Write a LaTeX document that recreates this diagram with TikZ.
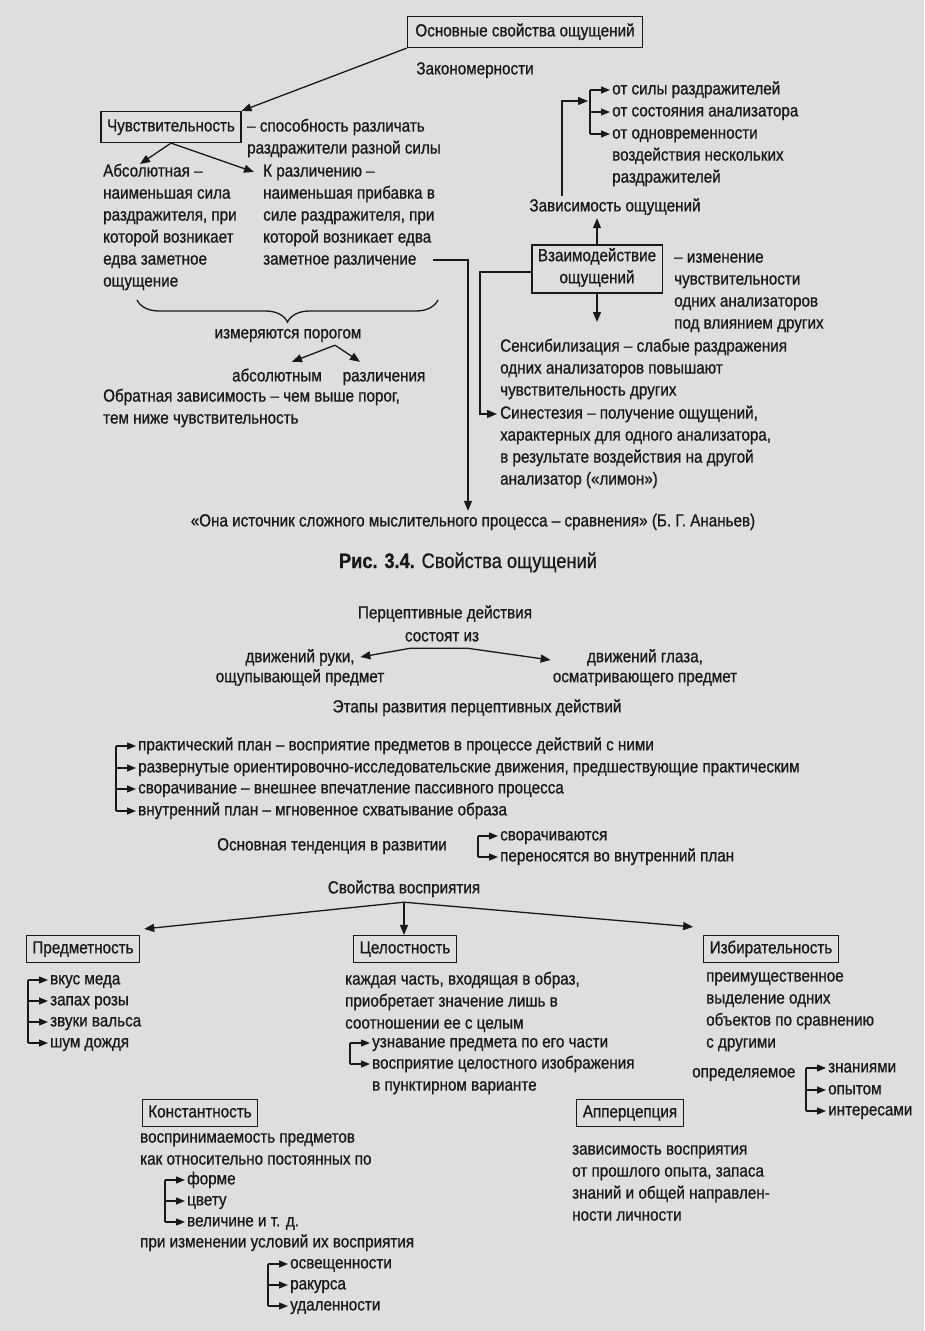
\documentclass[tikz,border=0pt]{standalone}
\usepackage{fontspec}
\setmainfont{Liberation Sans}[FakeStretch=0.87, FakeBold=0.8]
\usetikzlibrary{arrows.meta,positioning,decorations.pathreplacing}
\definecolor{ink}{gray}{0.1}
\definecolor{paper}{gray}{0.87}

\begin{document}
\begin{tikzpicture}[x=1pt, y=-1pt,
  every node/.style={font=\fontsize{17.5}{22}\selectfont, text=ink},
  box/.style={rectangle, draw=ink, line width=1.2pt, align=center, inner xsep=6pt, inner ysep=0pt, minimum height=27pt, execute at begin node=\strut},
  txt/.style={inner sep=0pt, align=left, anchor=north west},
  lbl/.style={inner sep=0pt, execute at begin node=\strut},
  item/.style={lbl, anchor=west},
  arrow/.style={draw=ink, line width=1.3pt, -{Triangle[length=10pt, width=8pt]}},
  tick/.style={draw=ink, line width=1.3pt, -{Triangle[length=9pt, width=7pt]}},
  biarrow/.style={draw=ink, line width=1.3pt, {Triangle[length=10pt, width=8pt]}-{Triangle[length=10pt, width=8pt]}},
  bar/.style={draw=ink, line width=1.3pt},
]
\path[use as bounding box, fill=paper] (0,0) rectangle (924,1331);

% === Fig. 3.4: properties of sensations ===
\node[box, minimum height=31pt, inner xsep=8pt] (osn) at (525,32) {Основные свойства ощущений};
\node[lbl] (zakon) at (475,70) {Закономерности};

\node[box, minimum height=31pt] (chuv) at (171,127) {Чувствительность};
\node[txt] (chuvdef) at (247,116) {\strut– способность различать\\раздражители разной силы};
\node[txt] (absdef) at (103,161) {\strut Абсолютная –\\наименьшая сила\\раздражителя, при\\которой возникает\\едва заметное\\ощущение};
\node[txt] (razldef) at (263,161) {\strut К различению –\\наименьшая прибавка в\\силе раздражителя, при\\которой возникает едва\\заметное различение};
\draw[bar, decorate, decoration={brace, mirror, amplitude=22pt}] (137,300) -- (438,300);
\node[lbl] (izmer) at (288,334) {измеряются порогом};
\coordinate (porog) at ([xshift=47pt]izmer.south);
\node[lbl] (absol) at (277,377) {абсолютным};
\node[lbl] (razlich) at (384,377) {различения};
\node[txt] (obrat) at (103,386) {\strut Обратная зависимость – чем выше порог,\\тем ниже чувствительность};

\node[item] (ot1) at (612,90) {от силы раздражителей};
\node[item] (ot2) at (612,112) {от состояния анализатора};
\node[txt] (ot3) at (612,123) {\strut от одновременности\\воздействия нескольких\\раздражителей};
\node[lbl] (zavis) at (615,207) {Зависимость ощущений};
\node[box, minimum height=48pt] (vzaim) at (597,269) {Взаимодействие\\ощущений};
\node[txt] (vzaimdef) at (674,247) {\strut– изменение\\чувствительности\\одних анализаторов\\под влиянием других};
\node[txt] (sensib) at (500,336) {\strut Сенсибилизация – слабые раздражения\\одних анализаторов повышают\\чувствительность других};
\node[txt] (sinest) at (500,403) {\strut Синестезия – получение ощущений,\\характерных для одного анализатора,\\в результате воздействия на другой\\анализатор («лимон»)};
\node[lbl] (quote) at (473,522) {«Она источник сложного мыслительного процесса – сравнения» (Б. Г. Ананьев)};
\node[lbl, font=\fontsize{21}{25}\selectfont] (caption) at (468,563) {\textbf{Рис. 3.4.} Свойства ощущений};

\draw[arrow] (osn.south west) -- (chuv.north east);
\draw[arrow] (chuv.south) -- ([xshift=37pt, yshift=-3pt]absdef.north west);
\draw[arrow] (chuv.south) -- ([xshift=-9pt, yshift=-11pt]razldef.north west);
\draw[arrow] ([xshift=170pt, yshift=-99pt]razldef.north west) -| ([xshift=-5pt]quote.north);
\draw[arrow] (porog) -- ([xshift=15pt, yshift=4pt]absol.north);
\draw[arrow] (porog) -- ([xshift=-24pt, yshift=4pt]razlich.north);
\draw[arrow] (vzaim.north) -- (vzaim.north |- zavis.south);
\draw[arrow] ([xshift=-53pt]zavis.north) |- ([xshift=-24pt, yshift=-11pt]ot1.west);
\foreach \n in {ot1,ot2} \draw[tick] ([xshift=-22pt]\n.west) -- ([xshift=-2pt]\n.west);
\draw[tick] ([xshift=-22pt, yshift=-11pt]ot3.north west) -- ([xshift=-2pt, yshift=-11pt]ot3.north west);
\draw[bar] ([xshift=-22pt]ot1.west) -- ([xshift=-22pt, yshift=-11pt]ot3.north west);
\draw[arrow] (vzaim.south) -- ([xshift=97pt, yshift=14pt]sensib.north west);
\draw[arrow] ([yshift=-3pt]vzaim.west) -| ([xshift=-20pt, yshift=-11pt]sinest.north west) -- ([xshift=-3pt, yshift=-11pt]sinest.north west);

% === Perceptual actions ===
\node[lbl] (perc) at (445,614) {Перцептивные действия};
\node[lbl] (sost) at (442,637) {состоят из};
\node[txt, align=center, anchor=north, font=\fontsize{17.5}{20}\selectfont] (ruki) at (300,648) {\strut движений руки,\\ощупывающей предмет};
\node[txt, align=center, anchor=north, font=\fontsize{17.5}{20}\selectfont] (glaza) at (645,648) {\strut движений глаза,\\осматривающего предмет};
\node[lbl] (etapy) at (477,708) {Этапы развития перцептивных действий};
\node[item] (st1) at (138,746) {практический план – восприятие предметов в процессе действий с ними};
\node[item] (st2) at (138,768) {развернутые ориентировочно-исследовательские движения, предшествующие практическим};
\node[item] (st3) at (138,789) {сворачивание – внешнее впечатление пассивного процесса};
\node[item] (st4) at (138,811) {внутренний план – мгновенное схватывание образа};
\node[lbl] (tend) at (332,846) {Основная тенденция в развитии};
\node[item] (svor) at (500,836) {сворачиваются};
\node[item] (pern) at (500,857) {переносятся во внутренний план};

\draw[biarrow] ([xshift=-24pt, yshift=-9pt]ruki.north east) -- ([xshift=6pt]sost.south west) -- ([xshift=-12pt]sost.south east) -- ([xshift=-2pt, yshift=-12pt]glaza.north west);
\foreach \n in {st1,st2,st3,st4} \draw[tick] ([xshift=-22pt]\n.west) -- ([xshift=-2pt]\n.west);
\draw[bar] ([xshift=-22pt]st1.west) -- ([xshift=-22pt]st4.west);
\foreach \n in {svor,pern} \draw[tick] ([xshift=-22pt]\n.west) -- ([xshift=-2pt]\n.west);
\draw[bar] ([xshift=-22pt]svor.west) -- ([xshift=-22pt]pern.west);

% === Properties of perception ===
\node[lbl] (svoist) at (404,889) {Свойства восприятия};
\coordinate (svfork) at ([yshift=-2pt]svoist.south);
\node[box] (predm) at (83,949) {Предметность};
\node[box] (cel) at (405,949) {Целостность};
\node[box] (izbir) at (771,949) {Избирательность};
\node[item] (pr1) at (50,980) {вкус меда};
\node[item] (pr2) at (50,1001) {запах розы};
\node[item] (pr3) at (50,1022) {звуки вальса};
\node[item] (pr4) at (50,1043) {шум дождя};
\node[txt] (celdef) at (345,969) {\strut каждая часть, входящая в образ,\\приобретает значение лишь в\\соотношении ее с целым};
\node[item] (cel1) at (372,1043) {узнавание предмета по его части};
\node[txt] (cel2) at (372,1053) {\strut восприятие целостного изображения\\в пунктирном варианте};
\node[txt] (izbirdef) at (706,966) {\strut преимущественное\\выделение одних\\объектов по сравнению\\с другими};
\node[item] (opred) at (692,1073) {определяемое};
\node[item] (zn1) at (828,1068) {знаниями};
\node[item] (zn2) at (828,1090) {опытом};
\node[item] (zn3) at (828,1111) {интересами};
\node[box] (konst) at (200,1113) {Константность};
\node[txt] (konstdef) at (140,1127) {\strut воспринимаемость предметов\\как относительно постоянных по};
\node[item] (ks1) at (187,1180) {форме};
\node[item] (ks2) at (187,1201) {цвету};
\node[item] (ks3) at (187,1222) {величине и т. д.};
\node[item] (pri) at (140,1243) {при изменении условий их восприятия};
\node[item] (us1) at (290,1264) {освещенности};
\node[item] (us2) at (290,1285) {ракурса};
\node[item] (us3) at (290,1306) {удаленности};
\node[box] (apperc) at (630,1113) {Апперцепция};
\node[txt] (appercdef) at (572,1139) {\strut зависимость восприятия\\от прошлого опыта, запаса\\знаний и общей направлен-\\ности личности};

\draw[arrow] (svfork) -- ([xshift=4pt, yshift=6pt]predm.north east);
\draw[arrow] (svfork) -- (svfork |- cel.north);
\draw[arrow] (svfork) -- ([xshift=-10pt, yshift=8pt]izbir.north west);
\foreach \n in {pr1,pr2,pr3,pr4} \draw[tick] ([xshift=-22pt]\n.west) -- ([xshift=-2pt]\n.west);
\draw[bar] ([xshift=-22pt]pr1.west) -- ([xshift=-22pt]pr4.west);
\draw[tick] ([xshift=-22pt]cel1.west) -- ([xshift=-2pt]cel1.west);
\draw[tick] ([xshift=-22pt, yshift=-11pt]cel2.north west) -- ([xshift=-2pt, yshift=-11pt]cel2.north west);
\draw[bar] ([xshift=-22pt]cel1.west) -- ([xshift=-22pt, yshift=-11pt]cel2.north west);
\foreach \n in {zn1,zn2,zn3} \draw[tick] ([xshift=-22pt]\n.west) -- ([xshift=-2pt]\n.west);
\draw[bar] ([xshift=-22pt]zn1.west) -- ([xshift=-22pt]zn3.west);
\foreach \n in {ks1,ks2,ks3} \draw[tick] ([xshift=-22pt]\n.west) -- ([xshift=-2pt]\n.west);
\draw[bar] ([xshift=-22pt]ks1.west) -- ([xshift=-22pt]ks3.west);
\foreach \n in {us1,us2,us3} \draw[tick] ([xshift=-22pt]\n.west) -- ([xshift=-2pt]\n.west);
\draw[bar] ([xshift=-22pt]us1.west) -- ([xshift=-22pt]us3.west);

\end{tikzpicture}
\end{document}
